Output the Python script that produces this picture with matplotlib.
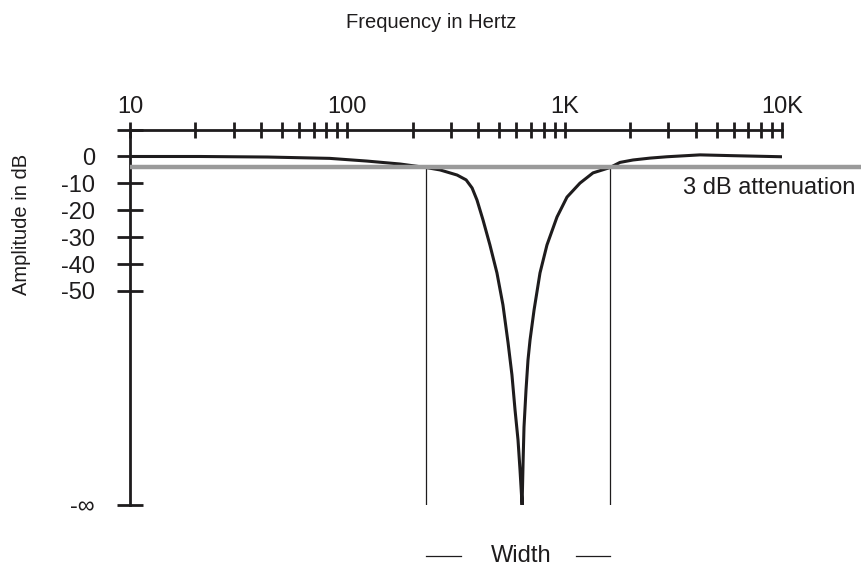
import matplotlib
matplotlib.use("Agg")
import matplotlib.pyplot as plt
from matplotlib.ticker import FixedLocator, NullFormatter

plt.rcParams['font.family'] = ['Liberation Sans', 'DejaVu Sans']

# notch response (Hz, dB); -129.6 stands for -inf
FREQ_HZ = [10, 21, 43, 83, 123, 175, 230, 267, 320, 352, 375, 395, 421, 453,
           488, 520, 549, 572, 591, 610, 623, 637,
           644, 650, 664, 678, 693, 723, 770, 829, 922, 1025, 1176, 1350,
           1617, 1797, 2063, 2470, 2956, 4196, 5956, 10000]
LEVEL_DB = [0.0, 0.0, -0.2, -0.7, -1.7, -2.8, -4.1, -5.0, -6.9, -8.7, -11.7,
            -16.2, -23.6, -32.9, -43.3, -55.2, -69.3, -81.2, -94.2, -105.4,
            -116.5, -129.6,
            -112.8, -100.6, -86.8, -75.7, -68.2, -57.1, -43.3, -32.9, -22.5,
            -15.1, -9.9, -6.1, -4.1, -2.2, -1.3, -0.6, -0.1, 0.6, 0.3, -0.1]

NEG_INF = -129.6
TOP_DB = 9.85
ATTEN_DB = -3.9
ATTEN_END_HZ = 23300
F_LOW, F_HIGH = 230, 1617
WIDTH_INNER = (333, 1127)

DB_TICKS = [0, -10, -20, -30, -40, -50]
DECADES = [10, 100, 1000, 10000]
DECADE_LABELS = ['10', '100', '1K', '10K']
MINOR_HZ = [m * d for d in DECADES[:-1] for m in range(2, 10)]

INK = '#1e1c1d'
GREY = '#9a9a9a'
FS = 17

fig = plt.figure(figsize=(8.62, 5.67), dpi=100)
ax = fig.add_axes([130 / 862, 1 - 505 / 567, 652 / 862, 375 / 567])
ax.set_xscale('log')
ax.set_xlim(10, 10000)
ax.set_ylim(NEG_INF, TOP_DB)
ax.patch.set_visible(False)

for side in ('right', 'bottom'):
    ax.spines[side].set_visible(False)
for side in ('left', 'top'):
    ax.spines[side].set_linewidth(2.0)
    ax.spines[side].set_color(INK)

# frequency axis on top
ax.xaxis.set_ticks_position('top')
ax.xaxis.set_major_locator(FixedLocator(DECADES))
ax.xaxis.set_minor_locator(FixedLocator(MINOR_HZ))
ax.set_xticklabels(DECADE_LABELS)
ax.xaxis.set_minor_formatter(NullFormatter())
ax.tick_params(axis='x', which='both', direction='inout', length=11.5,
               width=2.0, color=INK, labelsize=FS, pad=3, labelcolor=INK)

# amplitude axis
ax.set_yticks([TOP_DB] + DB_TICKS + [NEG_INF])
ax.set_yticklabels([''] + [str(v) for v in DB_TICKS] + ['-\u221e'])
ax.tick_params(axis='y', direction='inout', length=18.7, width=2.0,
               color=INK, labelsize=FS, pad=15.8, labelcolor=INK)
ax.yaxis.set_minor_locator(FixedLocator([]))

ax.plot(FREQ_HZ, LEVEL_DB, color=INK, lw=2.2, solid_joinstyle='round',
        zorder=3)
ax.plot([10, ATTEN_END_HZ], [ATTEN_DB, ATTEN_DB], color=GREY, lw=3.2,
        clip_on=False, zorder=4, solid_capstyle='butt')
ax.vlines([F_LOW, F_HIGH], NEG_INF, ATTEN_DB, color=INK, lw=0.9, zorder=2)

ax.text(3500, -11.7, '3 dB attenuation', fontsize=FS, color=INK,
        ha='left', va='center')

# width marker below the notch
ax.plot([F_LOW, WIDTH_INNER[0]], [-148.5, -148.5], color=INK, lw=0.9,
        clip_on=False)
ax.plot([WIDTH_INNER[1], F_HIGH], [-148.5, -148.5], color=INK, lw=0.9,
        clip_on=False)
ax.text(630, -148.5, 'Width', fontsize=FS, color=INK, ha='center',
        va='center', clip_on=False)

fig.text(431 / 862, 1 - 22 / 567, 'Frequency in Hertz', fontsize=14.5,
         color=INK, ha='center', va='center')
fig.text(22 / 862, 1 - 224 / 567, 'Amplitude in dB', fontsize=14.5,
         color=INK, ha='center', va='center', rotation=90)

fig.savefig('out.png', dpi=100)
